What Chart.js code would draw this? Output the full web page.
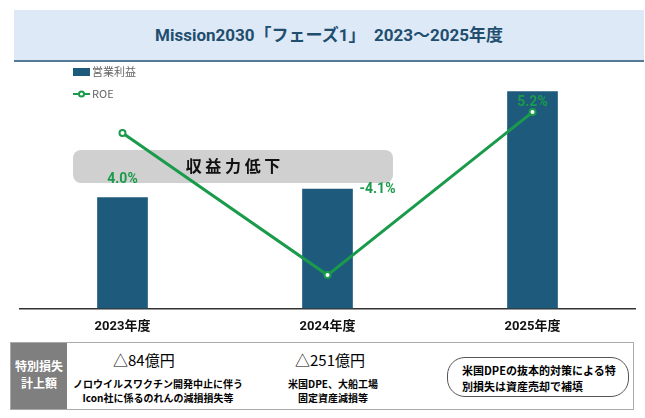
<!DOCTYPE html>
<html><head><meta charset="utf-8">
<script src="https://cdn.jsdelivr.net/npm/chart.js@4"></script>
<style>
body{margin:0;width:645px;height:418px;background:#fff;font-family:"Noto Sans CJK JP",sans-serif;position:relative;overflow:hidden}
#title{position:absolute;left:14px;top:10px;width:630px;height:50px;background:#dde9f7;border-bottom:2px solid #557a96;
 color:#1f4e6e;font-size:17px;font-weight:bold;line-height:50px;text-align:center;font-family:Roboto,"Noto Sans CJK JP",sans-serif}
#wrap{position:absolute;left:0;top:62px;width:645px;height:276px}
#tbl{position:absolute;left:10px;top:342px;width:624px;height:68px;border:1px solid #aaa;box-sizing:border-box}
#hd{position:absolute;left:0;top:0;width:56px;height:66px;background:#7f7f7f;color:#fff;font-weight:bold;font-size:12px;text-align:center;padding-top:14px;box-sizing:border-box;line-height:17px}
.c{position:absolute;text-align:center;font-size:10px;font-weight:bold;line-height:14px}
.big{font-size:15px;font-weight:normal;display:block;margin-bottom:10px;text-align:left}
#note{position:absolute;left:436px;top:14px;width:182px;height:40px;border:1px solid #555;border-radius:18px;font-size:11px;font-weight:bold;line-height:16px;padding:4px 0 0 14px;box-sizing:border-box}
</style></head><body>
<div id="title">Mission2030「フェーズ1」　2023～2025年度</div>
<div id="wrap"><canvas id="c"></canvas></div>
<div id="tbl">
 <div id="hd">特別損失<br>計上額</div>
 <div class="c" style="left:62px;top:10px;width:170px"><span class="big" style="padding-left:40px">△84億円</span>ノロウイルスワクチン開発中止に伴う<br>Icon社に係るのれんの減損損失等</div>
 <div class="c" style="left:262px;top:10px;width:120px"><span class="big" style="padding-left:22px">△251億円</span>米国DPE、大船工場<br>固定資産減損等</div>
 <div id="note">米国DPEの抜本的対策による特<br>別損失は資産売却で補填</div>
</div>
<script>
var categories = ['2023年度','2024年度','2025年度'];
var profit = [134, 144, 262];
var roe = [4.0, -4.1, 5.2];
var barColor = '#1d5a7b';
var green = '#1a9b4b';

var overlay = {
  id: 'overlay',
  beforeDatasetsDraw: function(chart){
    var c = chart.ctx;
    // legend
    c.save();
    c.fillStyle = barColor; c.fillRect(73, 6, 17, 8);
    c.font = '11px "Noto Sans CJK JP"'; c.fillStyle = '#666'; c.textBaseline = 'middle';
    c.fillText('営業利益', 92, 10);
    c.strokeStyle = green; c.lineWidth = 2;
    c.beginPath(); c.moveTo(73, 32); c.lineTo(90, 32); c.stroke();
    c.fillStyle = '#fff'; c.beginPath(); c.arc(81.5, 32, 2.5, 0, 7); c.fill(); c.stroke();
    c.fillStyle = '#666'; c.fillText('ROE', 92, 32);
    // banner
    c.fillStyle = '#d0d0d0';
    c.beginPath(); c.roundRect(73, 88, 320, 33, 8); c.fill();
    c.fillStyle = '#111'; c.font = 'bold 16px "Noto Sans CJK JP"'; c.textAlign = 'center';
    c.fillText('収 益 力 低 下', 233, 104);
    c.restore();
  },
  afterDatasetsDraw: function(chart){
    var c = chart.ctx;
    c.save(); c.textAlign = 'center'; c.textBaseline = 'middle';
    chart.getDatasetMeta(0).data.forEach(function(b, i){
      c.fillStyle = '#fff'; c.font = 'bold 14px Roboto';
      c.fillText(String(profit[i]), b.x, (b.y + b.base) / 2);
    });
    var pts = chart.getDatasetMeta(1).data;
    c.fillStyle = green; c.font = 'bold 14px Roboto';
    c.fillText(roe[0].toFixed(1) + '%', pts[0].x, pts[0].y - 18);
    c.fillText(roe[1].toFixed(1) + '%', pts[1].x + 50, pts[1].y);
    c.fillText(roe[2].toFixed(1) + '%', pts[2].x, chart.getDatasetMeta(0).data[2].y - 10);
    c.restore();
  }
};

new Chart(document.getElementById('c'), {
  data: {
    labels: categories,
    datasets: [
      {type: 'line', data: roe, yAxisID: 'y1', borderColor: green, borderWidth: 3,
       pointBackgroundColor: '#fff', pointBorderColor: green, pointRadius: 3, pointBorderWidth: 2, order: 0},
      {type: 'bar', data: profit, yAxisID: 'y', backgroundColor: barColor, barThickness: 50, order: 1}
    ]
  },
  options: {
    responsive: true, maintainAspectRatio: false, animation: false,
    layout: {padding: {top: 8, left: 20, right: 10}},
    plugins: {legend: {display: false}, tooltip: {enabled: false}},
    scales: {
      x: {grid: {display: false}, border: {color: '#333', width: 1.5},
          ticks: {color: '#111', font: {weight: 'bold', size: 13, family: 'Roboto, "Noto Sans CJK JP"'}}},
      y: {display: false, min: 0, max: 288},
      y1: {display: false, min: -6, max: 7.6}
    }
  },
  plugins: [overlay]
});
</script>
</body></html>
